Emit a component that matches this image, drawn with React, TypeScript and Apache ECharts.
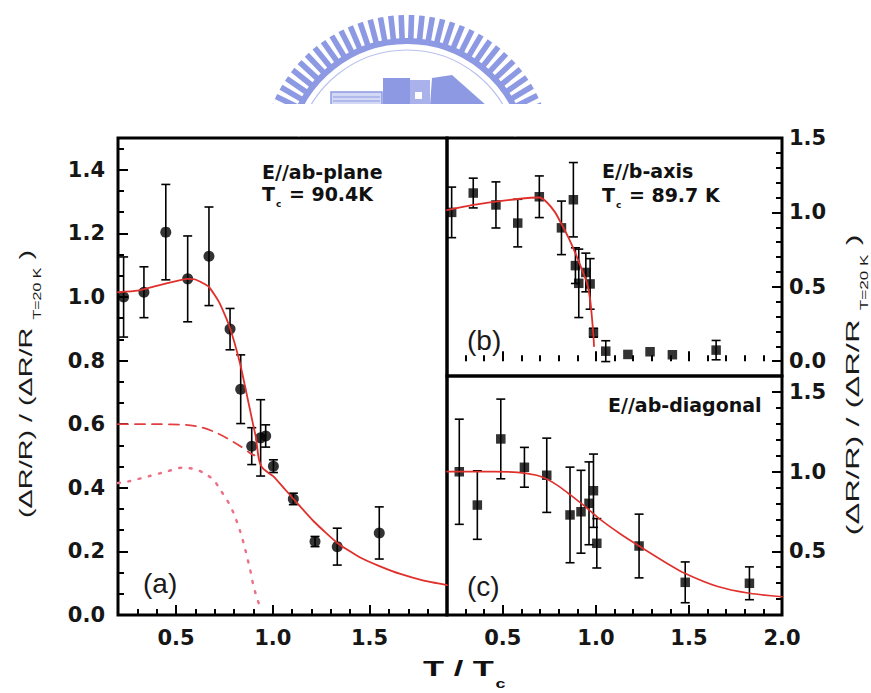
import React, { useEffect, useRef } from 'react';
import * as echarts from 'echarts';

// ---------- Panel (a): E//ab-plane ----------
const aT = [0.229, 0.334, 0.447, 0.56, 0.67, 0.779, 0.834, 0.891, 0.937, 0.963, 1.003, 1.106, 1.218, 1.333, 1.55];
const aR = [1.0, 1.015, 1.204, 1.057, 1.128, 0.899, 0.71, 0.531, 0.557, 0.563, 0.468, 0.365, 0.231, 0.215, 0.258];
const aErr = [0.126, 0.08, 0.15, 0.135, 0.155, 0.065, 0.108, 0.058, 0.12, 0.035, 0.02, 0.018, 0.016, 0.058, 0.082];

const aFitT = [0.2, 0.3, 0.4, 0.5, 0.56, 0.6, 0.668, 0.725, 0.776, 0.831, 0.87, 0.896, 0.912, 0.925, 0.935, 0.95, 0.975, 1.003, 1.056, 1.108, 1.212, 1.336, 1.454, 1.554, 1.659, 1.78, 1.9];
const aFitR = [1.015, 1.02, 1.035, 1.05, 1.057, 1.055, 1.033, 0.981, 0.907, 0.79, 0.68, 0.605, 0.56, 0.5, 0.475, 0.46, 0.448, 0.436, 0.4, 0.364, 0.294, 0.225, 0.18, 0.153, 0.129, 0.108, 0.094];

const aDashT = [0.2, 0.4, 0.55, 0.625, 0.694, 0.763, 0.832, 0.883, 0.905];
const aDashR = [0.6, 0.6, 0.598, 0.591, 0.577, 0.556, 0.531, 0.509, 0.502];

const aDotT = [0.2, 0.253, 0.363, 0.45, 0.53, 0.597, 0.642, 0.694, 0.728, 0.763, 0.797, 0.832, 0.858, 0.883, 0.901, 0.927];
const aDotR = [0.415, 0.42, 0.437, 0.451, 0.463, 0.459, 0.447, 0.425, 0.394, 0.362, 0.321, 0.262, 0.205, 0.142, 0.089, 0.037];

// ---------- Panel (b): E//b-axis ----------
const bT = [0.225, 0.341, 0.463, 0.58, 0.696, 0.815, 0.879, 0.89, 0.908, 0.946, 0.969, 0.987, 1.053, 1.172, 1.291, 1.411, 1.646];
const bR = [1.0, 1.13, 1.05, 0.928, 1.105, 0.896, 1.085, 0.642, 0.523, 0.596, 0.519, 0.191, 0.067, 0.045, 0.063, 0.043, 0.074];
const bErr = [0.17, 0.1, 0.155, 0.16, 0.14, 0.18, 0.25, 0.12, 0.23, 0.13, 0.17, 0.03, 0.07, 0, 0, 0, 0.065];

const bFitT = [0.2, 0.341, 0.463, 0.58, 0.696, 0.736, 0.781, 0.815, 0.852, 0.888, 0.924, 0.951, 0.969, 0.978, 0.987, 0.99];
const bFitR = [1.015, 1.05, 1.072, 1.09, 1.1, 1.068, 1.0, 0.922, 0.832, 0.731, 0.618, 0.529, 0.416, 0.305, 0.169, 0.101];

// ---------- Panel (c): E//ab-diagonal ----------
const cT = [0.266, 0.363, 0.489, 0.616, 0.736, 0.861, 0.92, 0.963, 0.987, 1.005, 1.232, 1.48, 1.825];
const cR = [0.999, 0.79, 1.205, 1.027, 0.977, 0.728, 0.748, 0.801, 0.88, 0.55, 0.533, 0.305, 0.299];
const cErr = [0.33, 0.215, 0.25, 0.125, 0.233, 0.3, 0.26, 0.26, 0.23, 0.155, 0.2, 0.128, 0.103];

const cFitT = [0.2, 0.45, 0.58, 0.682, 0.736, 0.798, 0.861, 0.951, 1.023, 1.13, 1.232, 1.381, 1.48, 1.65, 1.825, 2.0];
const cFitR = [1.0, 1.0, 0.995, 0.977, 0.953, 0.91, 0.855, 0.772, 0.7, 0.61, 0.533, 0.425, 0.36, 0.28, 0.236, 0.215];

// ---------- Tick labels ----------
const aXTicks = [0.5, 1.0, 1.5];
const aYTicks = [0.0, 0.2, 0.4, 0.6, 0.8, 1.0, 1.2, 1.4];
const bXTicks = [0.5, 1.0, 1.5, 2.0];
const bYTicks = [0.0, 0.5, 1.0, 1.5];
const cXTicks = [0.5, 1.0, 1.5, 2.0];
const cYTicks = [0.5, 1.0, 1.5];

const zip = (xs: number[], ys: number[]) => xs.map((x, i) => [x, ys[i]]);
const zip3 = (xs: number[], ys: number[], es: number[]) => xs.map((x, i) => [x, ys[i], es[i]]);

function minorTicks(min: number, max: number, step: number, majors: number[]) {
  const out: number[] = [];
  const k0 = Math.ceil(min / step - 1e-9);
  for (let k = k0; k * step <= max + 1e-9; k++) {
    const v = +(k * step).toFixed(5);
    if (v <= min + 1e-6 || v >= max - 1e-6) continue;
    if (majors.some((m) => Math.abs(m - v) < 1e-6)) continue;
    out.push(v);
  }
  return out;
}

const LABEL = { fontFamily: 'DejaVu Sans', fontWeight: 'bold' as const, fontSize: 21, color: '#161616' };
const TICK_LINE = { color: '#000', width: 2 };
const fmt = (v: number) => v.toFixed(1);

function axisPair(grid: number, min: number, max: number, position: string, majors: number[], labels: number[] | null, minorStep: number, margin: number) {
  const main: any = {
    gridIndex: grid, type: 'value', min, max, position, offset: 0,
    axisLine: { show: false }, splitLine: { show: false },
    axisTick: { show: true, inside: true, length: 10, lineStyle: TICK_LINE, customValues: majors },
    axisLabel: labels ? { show: true, ...LABEL, margin, customValues: labels, formatter: fmt } : { show: false },
  };
  const minor: any = {
    gridIndex: grid, type: 'value', min, max, position, offset: 0,
    axisLine: { show: false }, splitLine: { show: false },
    axisTick: { show: true, inside: true, length: 6, lineStyle: TICK_LINE, customValues: minorTicks(min, max, minorStep, majors) },
    axisLabel: { show: false },
  };
  return [main, minor];
}

function errSeries(xi: number, yi: number, data: number[][]) {
  return {
    type: 'custom', xAxisIndex: xi, yAxisIndex: yi, z: 3, silent: true,
    encode: { x: 0, y: 1 },
    data,
    renderItem: (_p: any, api: any) => {
      const x = api.value(0), y = api.value(1), e = api.value(2);
      if (!e) return { type: 'group', children: [] };
      const p1 = api.coord([x, y + e]);
      const p2 = api.coord([x, y - e]);
      const st = { stroke: '#000', lineWidth: 1.6 };
      const hw = 4.5;
      return {
        type: 'group',
        children: [
          { type: 'line', shape: { x1: p1[0], y1: p1[1], x2: p2[0], y2: p2[1] }, style: st },
          { type: 'line', shape: { x1: p1[0] - hw, y1: p1[1], x2: p1[0] + hw, y2: p1[1] }, style: st },
          { type: 'line', shape: { x1: p2[0] - hw, y1: p2[1], x2: p2[0] + hw, y2: p2[1] }, style: st },
        ],
      };
    },
  };
}

function scatter(xi: number, yi: number, data: number[][], symbol: string, size: number) {
  return { type: 'scatter', xAxisIndex: xi, yAxisIndex: yi, symbol, symbolSize: size, itemStyle: { color: '#000' }, data, z: 4, silent: true };
}

function line(xi: number, yi: number, data: number[][], color: string, width: number, dash: any, z: number, smooth = 0.25) {
  return {
    type: 'line', xAxisIndex: xi, yAxisIndex: yi, data, showSymbol: false, symbol: 'none',
    smooth, z, silent: true,
    lineStyle: { color, width, type: dash, cap: 'round' },
  };
}

// ---------- Watermark logo (decoration) ----------
function logoElements() {
  const col = '#8d99e2';
  const cx = 407, cy = 161;
  const els: any[] = [];
  for (let a = -72; a <= 72.01; a += 4.1) {
    els.push({
      type: 'rect', x: cx, y: cy, rotation: (-a * Math.PI) / 180, silent: true,
      shape: { x: -2.8, y: -146, width: 5.6, height: 24 },
      style: { fill: col },
    });
  }
  els.push({ type: 'arc', silent: true, shape: { cx, cy, r: 120, startAngle: -Math.PI / 2 - 1.35, endAngle: -Math.PI / 2 + 1.35 }, style: { stroke: col, lineWidth: 6, fill: null } });
  els.push({ type: 'arc', silent: true, shape: { cx, cy, r: 111, startAngle: -Math.PI / 2 - 1.35, endAngle: -Math.PI / 2 + 1.35 }, style: { stroke: '#b9c0ee', lineWidth: 1.2, fill: null } });
  els.push({ type: 'rect', silent: true, shape: { x: 331, y: 92, width: 51, height: 14 }, style: { fill: '#d3d8f5', stroke: col, lineWidth: 1.5 } });
  els.push({ type: 'line', silent: true, shape: { x1: 333, y1: 97, x2: 380, y2: 97 }, style: { stroke: col, lineWidth: 1 } });
  els.push({ type: 'line', silent: true, shape: { x1: 333, y1: 101, x2: 380, y2: 101 }, style: { stroke: col, lineWidth: 1 } });
  els.push({ type: 'rect', silent: true, shape: { x: 383, y: 78, width: 27, height: 28 }, style: { fill: col } });
  els.push({ type: 'rect', silent: true, shape: { x: 410, y: 80, width: 20, height: 26 }, style: { fill: '#a9b2ea' } });
  els.push({ type: 'rect', silent: true, shape: { x: 415, y: 92, width: 7, height: 7 }, style: { fill: '#ffffff' } });
  els.push({ type: 'polygon', silent: true, shape: { points: [[430, 106], [432, 78], [452, 75], [487, 106]] }, style: { fill: col } });
  // white band that cuts the logo off above the plot frame
  els.push({ type: 'rect', silent: true, shape: { x: 230, y: 104, width: 360, height: 32 }, style: { fill: '#ffffff' } });
  return els;
}

function textElements() {
  const bold = { fontFamily: 'DejaVu Sans', fontWeight: 'bold', fill: '#111' };
  const tcRich = {
    m: { ...bold, fontSize: 19, lineHeight: 22, verticalAlign: 'top' },
    s: { ...bold, fontSize: 9, lineHeight: 9, padding: [15, 1, 0, 1], verticalAlign: 'top' },
  };
  const titleRich = (main: number) => ({
    m: { fontFamily: 'Liberation Sans', fontSize: main, lineHeight: 20, verticalAlign: 'top', fill: '#1a1a1a' },
    s: { fontFamily: 'Liberation Sans', fontSize: 10, lineHeight: 10, padding: [16, 0, 0, 0], verticalAlign: 'top', fill: '#1a1a1a' },
  });
  return [
    { type: 'text', x: 262, y: 171.5, silent: true, style: { ...bold, text: 'E//ab-plane', fontSize: 19, align: 'left', verticalAlign: 'middle' } },
    { type: 'text', x: 262, y: 184, silent: true, style: { text: '{m|T}{s|c}{m| = 90.4K}', rich: tcRich, align: 'left', verticalAlign: 'top' } },
    { type: 'text', x: 602, y: 171, silent: true, style: { ...bold, text: 'E//b-axis', fontSize: 19, align: 'left', verticalAlign: 'middle' } },
    { type: 'text', x: 602, y: 185, silent: true, style: { text: '{m|T}{s|c}{m| = 89.7 K}', rich: tcRich, align: 'left', verticalAlign: 'top' } },
    { type: 'text', x: 608, y: 405, silent: true, style: { ...bold, text: 'E//ab-diagonal', fontSize: 19, align: 'left', verticalAlign: 'middle' } },
    { type: 'text', x: 143, y: 583, silent: true, style: { text: '(a)', fontFamily: 'Liberation Sans', fontSize: 28, fill: '#1a1a1a', align: 'left', verticalAlign: 'middle' } },
    { type: 'text', x: 467, y: 340, silent: true, style: { text: '(b)', fontFamily: 'Liberation Sans', fontSize: 28, fill: '#1a1a1a', align: 'left', verticalAlign: 'middle' } },
    { type: 'text', x: 467, y: 586, silent: true, style: { text: '(c)', fontFamily: 'Liberation Sans', fontSize: 28, fill: '#1a1a1a', align: 'left', verticalAlign: 'middle' } },
    {
      type: 'text', x: 423, y: 656, scaleX: 1.5, silent: true,
      style: {
        text: '{m|T / T}{s|c}', align: 'left', verticalAlign: 'top',
        rich: {
          m: { fontFamily: 'Liberation Sans', fontWeight: 'bold', fontSize: 23, lineHeight: 26, verticalAlign: 'top', fill: '#111' },
          s: { fontFamily: 'Liberation Sans', fontWeight: 'bold', fontSize: 12, lineHeight: 12, padding: [22, 0, 0, 1], verticalAlign: 'top', fill: '#111' },
        },
      },
    },
    {
      type: 'text', x: 27, y: 384, rotation: Math.PI / 2, scaleX: 1.6, silent: true,
      style: { text: '{m|(ΔR/R) / (ΔR/R }{s|T=20 K}{m| )}', rich: titleRich(18), align: 'center', verticalAlign: 'middle' },
    },
    {
      type: 'text', x: 853, y: 385, rotation: Math.PI / 2, scaleX: 1.72, silent: true,
      style: { text: '{m|(ΔR/R) / (ΔR/R }{s|T=20 K}{m| )}', rich: titleRich(19), align: 'center', verticalAlign: 'middle' },
    },
  ];
}

export default function App() {
  const ref = useRef<HTMLDivElement>(null);
  useEffect(() => {
    if (!ref.current) return;
    const chart = echarts.init(ref.current, undefined, { renderer: 'svg' });
    const gridStyle = { show: true, borderColor: '#000', borderWidth: 3, backgroundColor: 'transparent', containLabel: false };
    const xAxis = [
      ...axisPair(0, 0.2, 1.9, 'bottom', aXTicks, aXTicks, 0.1, 12),
      ...axisPair(1, 0.2, 2.0, 'bottom', bXTicks, null, 0.1, 12),
      ...axisPair(2, 0.2, 2.0, 'bottom', cXTicks, cXTicks, 0.1, 12),
    ];
    const yAxis = [
      ...axisPair(0, 0, 1.5, 'left', aYTicks, aYTicks, 0.2 / 3, 13),
      ...axisPair(1, -0.1, 1.5, 'right', bYTicks, bYTicks, 0.1, 7),
      ...axisPair(2, 0.1, 1.6, 'right', cYTicks, cYTicks, 0.1, 7),
    ];
    const option: any = {
      animation: false,
      backgroundColor: '#ffffff',
      grid: [
        { ...gridStyle, left: 118, top: 138, width: 329, height: 477 },
        { ...gridStyle, left: 447, top: 138, width: 335, height: 238 },
        { ...gridStyle, left: 447, top: 376, width: 335, height: 239 },
      ],
      xAxis,
      yAxis,
      series: [
        line(0, 0, zip(aDotT, aDotR), '#ec6f86', 2.4, [2, 8.5], 5),
        line(0, 0, zip(aDashT, aDashR), '#e2403f', 1.8, [10, 7], 5),
        errSeries(0, 0, zip3(aT, aR, aErr)),
        scatter(0, 0, zip(aT, aR), 'circle', 11),
        line(0, 0, zip(aFitT, aFitR), '#e0302c', 1.8, 'solid', 6, 0.15),

        errSeries(2, 2, zip3(bT, bR, bErr)),
        scatter(2, 2, zip(bT, bR), 'rect', 9.5),
        line(2, 2, zip(bFitT, bFitR), '#e0302c', 1.8, 'solid', 6, 0.2),

        errSeries(4, 4, zip3(cT, cR, cErr)),
        scatter(4, 4, zip(cT, cR), 'rect', 9.5),
        line(4, 4, zip(cFitT, cFitR), '#e0302c', 1.6, 'solid', 6, 0.3),
      ],
      graphic: { elements: [...logoElements(), ...textElements()] },
    };
    chart.setOption(option);
    return () => chart.dispose();
  }, []);
  return <div ref={ref} style={{ position: 'fixed', left: 0, top: 0, width: 871, height: 693, background: '#fff' }} />;
}
